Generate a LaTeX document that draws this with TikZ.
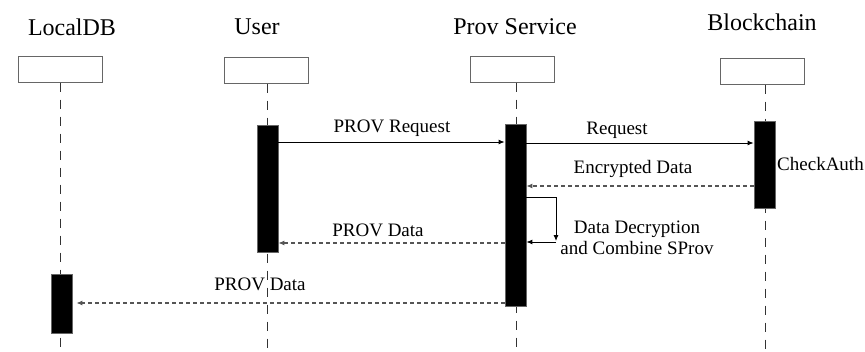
\documentclass[tikz,border=0pt]{standalone}
\usepackage{fontspec}
\setmainfont{Liberation Serif}
\usetikzlibrary{arrows.meta}

\definecolor{lineGray}{HTML}{333333}
\definecolor{boxGray}{HTML}{666666}
\definecolor{replyGray}{HTML}{555555}

\tikzset{
  title/.style={font=\fontsize{24}{28}\selectfont, inner sep=0pt, anchor=center},
  msg/.style={font=\fontsize{19}{22}\selectfont, inner sep=0pt},
  headbox/.style={draw=boxGray, line width=1pt, fill=white, minimum width=84pt, minimum height=26pt, inner sep=0pt},
  lifeline/.style={draw=lineGray, line width=1pt, dash pattern=on 9pt off 8pt},
  activation/.style={draw=boxGray, line width=0.8pt, fill=black, inner sep=0pt, minimum width=21pt},
  call/.style={draw=black, line width=0.9pt, -{Latex[length=6pt,width=5pt]}},
  reply/.style={draw=replyGray, line width=1.1pt, dash pattern=on 4pt off 3pt, -{Latex[length=6pt,width=5pt]}}
}

\begin{document}
\begin{tikzpicture}[x=1pt,y=-1pt]
  \useasboundingbox (0,0) rectangle (865,351);

  % participant titles
  \node[title] (tDB)   at (72,27)  {LocalDB};
  \node[title] (tUser) at (257,27) {User};
  \node[title] (tProv) at (515,27) {Prov Service};
  \node[title] (tBC)   at (762,22) {Blockchain};

  % participant header boxes
  \node[headbox] (hDB)   at (60,69)  {};
  \node[headbox] (hUser) at (266,70) {};
  \node[headbox] (hProv) at (512,69) {};
  \node[headbox] (hBC)   at (762,71) {};

  % lifeline ends at the bottom edge
  \coordinate (eDB)   at (60,351);
  \coordinate (eUser) at (267,351);
  \coordinate (eProv) at (516,351);
  \coordinate (eBC)   at (765,351);

  % lifelines
  \draw[lifeline] (hDB.south -| eDB) -- (eDB);
  \draw[lifeline] (hUser.south -| eUser) -- (eUser);
  \draw[lifeline] (hProv.south -| eProv) -- (eProv);
  \draw[lifeline] (hBC.south -| eBC) -- (eBC);

  % activation bars
  \node[activation, minimum height=127pt] (aUser) at (267.5,188.5) {};
  \node[activation, minimum height=182pt] (aProv) at (515.5,215)   {};
  \node[activation, minimum height=87pt]  (aBC)   at (764.5,164.5) {};
  \node[activation, minimum height=59pt]  (aDB)   at (61.5,303.5)  {};

  % PROV Request
  \draw[call] (aUser.east |- 0,142) -- (aProv.west |- 0,142);
  \node[msg] (lReq1) at (392,128) {PROV Request};

  % Request to the blockchain
  \draw[call] (aProv.east |- 0,143) -- (aBC.west |- 0,143);
  \node[msg] (lReq2) at (617,130) {Request};
  \node[msg, anchor=west] (lAuth) at (777,164) {CheckAuth};

  % Encrypted Data reply
  \draw[reply] (aBC.west |- 0,186) -- (aProv.east |- 0,186);
  \node[msg] (lEnc) at (633,169) {Encrypted Data};

  % self call: decryption and combination
  \coordinate (loopR) at (556,197);
  \coordinate (loopB) at (556,241);
  \draw[call] (aProv.east |- loopR) -- (loopR) -- (loopB);
  \draw[call] (556,242) -- (aProv.east |- 0,242);
  \node[msg, align=center] (lDec) at (637,237.5) {Data Decryption\\[-1pt]and Combine SProv};

  % PROV Data back to the user
  \draw[reply] (aProv.west |- 0,243) -- (aUser.east |- 0,243);
  \node[msg] (lData1) at (378,230) {PROV Data};

  % PROV Data stored locally
  \draw[reply] (aProv.west |- 0,303) -- ([xshift=4pt]aDB.east |- 0,303);
  \node[msg] (lData2) at (260,284) {PROV Data};
\end{tikzpicture}
\end{document}
